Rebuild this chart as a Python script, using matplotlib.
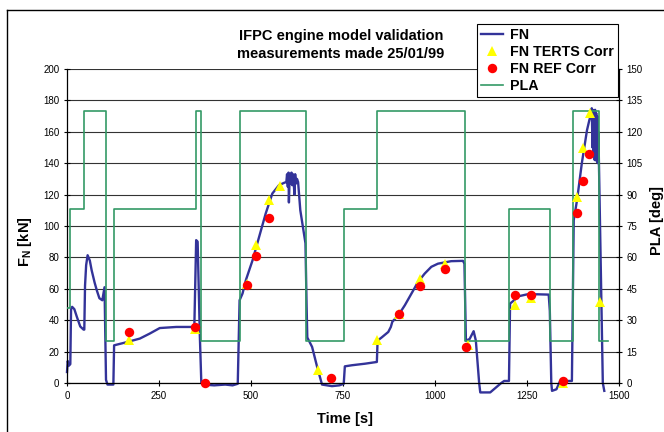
"""
IFPC engine model validation chart - FN vs time with PLA on secondary axis
"""
import matplotlib
matplotlib.use('Agg')
import matplotlib.pyplot as plt
from matplotlib.lines import Line2D

plt.rcParams['font.family'] = 'Liberation Sans'
plt.rcParams['mathtext.fontset'] = 'custom'
plt.rcParams['mathtext.rm'] = 'Liberation Sans'
plt.rcParams['mathtext.bf'] = 'Liberation Sans:bold'

# FN trace (time [s], kN)
fn_time = [0, 2, 5, 9, 11, 14, 20, 27, 36, 45, 47, 49, 52, 56, 62, 67, 75, 81, 88, 96,
           100, 102, 104, 106, 110, 120, 126, 128, 162, 198, 225, 252, 297, 346, 349, 351,
           355, 358, 361, 365, 370, 400, 430, 450, 464, 466, 469, 477, 486, 504, 522, 540,
           558, 576, 590, 596, 598, 600, 602, 603, 605, 608, 610, 612, 614, 616, 618, 620,
           622, 625, 628, 634, 648, 651, 653, 666, 680, 693, 720, 740, 752, 755, 774, 810,
           842, 844, 855, 873, 880, 884, 900, 918, 936, 954, 972, 990, 1008, 1044, 1076,
           1080, 1084, 1094, 1105, 1111, 1120, 1123, 1150, 1165, 1180, 1188, 1201, 1204,
           1215, 1228, 1251, 1278, 1309, 1312, 1316, 1318, 1330, 1340, 1372, 1377, 1386,
           1399, 1413, 1420, 1424, 1426, 1428, 1429, 1431, 1432, 1434, 1435, 1437, 1438,
           1440, 1441, 1443, 1444, 1447, 1451, 1456, 1460]
fn_kn = [7, 14, 11, 12, 47, 48.5, 47, 42, 36, 34, 34, 62, 75, 81.4, 78, 71.8, 64, 59, 54, 52.7,
         58, 61, 30, 2, -1, -1, -1, 24, 26, 28.3, 31.5, 35, 35.7, 35.7, 70, 91,
         90, 60, 30, 0, -1, -1.5, -1, -1.5, -0.5, 20, 52.7, 57, 65.5, 78, 93, 108,
         120.7, 126, 127.5, 128, 133, 125, 134, 115, 131, 127, 134, 126, 133, 128, 120, 133,
         127, 130, 128, 110, 89, 50, 29, 23, 10, -1, -2, -1.5, -0.5, 10.6, 11.3, 12.3,
         13.4, 27, 29, 32.5, 35.7, 39, 43, 49.5, 57, 64.4, 69.7, 74, 76, 77.6, 77.8,
         76, 27, 28, 33, 27, 0, -6, -6, -3, 0, 1.3, 1.3, 50.6,
         52.7, 55.3, 56.5, 56.5, 56.3, 46, 0, -5, -4, 1.3, 1.3, 103.7, 116.5,
         140, 161, 168, 170, 175, 150, 174, 145, 173, 142, 174, 143, 172,
         141, 170, 140, 160, 120, 65.5, 0, -5]

# corrected measurement points (time [s], kN)
terts_time = [169, 346.5, 490, 514.7, 549, 578, 681, 843, 903, 958, 1028, 1091, 1217,
              1261, 1347, 1386, 1402, 1420, 1448]
terts_kn = [27.2, 34.6, 63, 87.8, 116.5, 125.4, 8, 27.6, 44, 66, 76, 24, 50,
            54.4, 0, 118.6, 149.4, 171.7, 51.6]
ref_time = [169, 346.5, 375, 490.4, 514.7, 549, 718, 902.7, 958.3, 1027.7, 1085, 1216.7,
            1259.9, 1347, 1385.9, 1402, 1419]
ref_kn = [32.5, 35.7, 0, 62.3, 81, 105.2, 3.4, 43.8, 61.6, 72.7, 23, 56.3,
          55.9, 1, 108.4, 128.8, 145.8]

# PLA steps (time where level starts, deg)
pla_time = [0, 7, 45, 105, 128.6, 351, 363, 469, 650, 754, 843, 1082, 1202, 1313, 1374, 1447, 1471]
pla_deg = [36, 83, 130, 20, 83, 130, 20, 130, 20, 83, 130, 20, 83, 20, 130, 20, 20]

x_ticks = [0, 250, 500, 750, 1000, 1250, 1500]
fn_ticks = list(range(0, 201, 20))
pla_ticks = list(range(0, 151, 15))

FN_COLOR = '#333399'
PLA_COLOR = '#339966'

fig = plt.figure(figsize=(6.64, 4.32), dpi=100)
ax = fig.add_axes([67 / 664, 49 / 432, 552 / 664, 314 / 432])
ax2 = ax.twinx()

ax.yaxis.grid(True, color='#333333', linewidth=0.8)
ax.set_axisbelow(True)
fn_line, = ax.plot(fn_time, fn_kn, color=FN_COLOR, linewidth=1.7, clip_on=False, label='FN')

pla_line, = ax2.plot(pla_time, pla_deg, color=PLA_COLOR, linewidth=1.2,
                     drawstyle='steps-post', label='PLA')
# markers drawn in kN scale but on top of PLA layer
tri, = ax2.plot(terts_time, terts_kn, linestyle='none', marker='^', markersize=7.5,
                color='#FFFF00', markeredgewidth=0, transform=ax.transData, clip_on=False,
                label='FN TERTS Corr')
circ, = ax2.plot(ref_time, ref_kn, linestyle='none', marker='o', markersize=6.8,
                 color='#FF0000', markeredgewidth=0, transform=ax.transData, clip_on=False,
                 label='FN REF Corr')

ax.set_xlim(0, 1500)
ax.set_ylim(0, 200)
ax2.set_ylim(0, 150)
ax.set_xticks(x_ticks)
ax.set_yticks(fn_ticks)
ax2.set_yticks(pla_ticks)

for a in (ax, ax2):
    a.tick_params(direction='inout', length=5, width=0.8, labelsize=7, colors='black')
    for s in a.spines.values():
        s.set_linewidth(0.9)
ax.tick_params(axis='y', pad=3)
ax2.tick_params(axis='y', pad=3)
ax.spines['top'].set_visible(False)
ax.spines['right'].set_visible(False)
ax2.spines['top'].set_visible(False)
ax2.spines['left'].set_visible(False)
ax2.spines['bottom'].set_visible(False)

ax.set_ylabel(r'F$_\mathbf{N}$ [kN]', fontsize=10.5, fontweight='bold', va='center')
ax.yaxis.set_label_coords(-0.076, 0.45)
ax2.set_ylabel('PLA [deg]', fontsize=10.5, fontweight='bold', va='center')
ax2.yaxis.set_label_coords(1.068, 0.516)
ax.set_xlabel('Time [s]', fontsize=10.5, fontweight='bold', va='center')
ax.xaxis.set_label_coords(0.504, -0.115)

fig.text(341 / 664, 1 - 45 / 432, 'IFPC engine model validation\nmeasurements made 25/01/99',
         ha='center', va='center', fontsize=10.5, fontweight='bold', linespacing=1.35)

leg = fig.legend(handles=[fn_line, tri, circ, pla_line], loc='upper right',
                 bbox_to_anchor=(618 / 664, 1 - 24 / 432), frameon=True, fancybox=False,
                 prop={'weight': 'bold', 'size': 10.3}, handlelength=1.5, handletextpad=0.5,
                 borderpad=0.3, labelspacing=0.2, borderaxespad=0, numpoints=1)
leg.get_frame().set_edgecolor('black')
leg.get_frame().set_linewidth(0.8)
leg.get_frame().set_alpha(1)

# outer chart border (left and top edges visible)
fig.add_artist(Line2D([6.5 / 664, 6.5 / 664], [0, 1 - 9.5 / 432], transform=fig.transFigure,
                      color='black', linewidth=1))
fig.add_artist(Line2D([6.5 / 664, 1], [1 - 9.5 / 432, 1 - 9.5 / 432], transform=fig.transFigure,
                      color='black', linewidth=1))

fig.savefig('out.png', dpi=100)
plt.close(fig)
